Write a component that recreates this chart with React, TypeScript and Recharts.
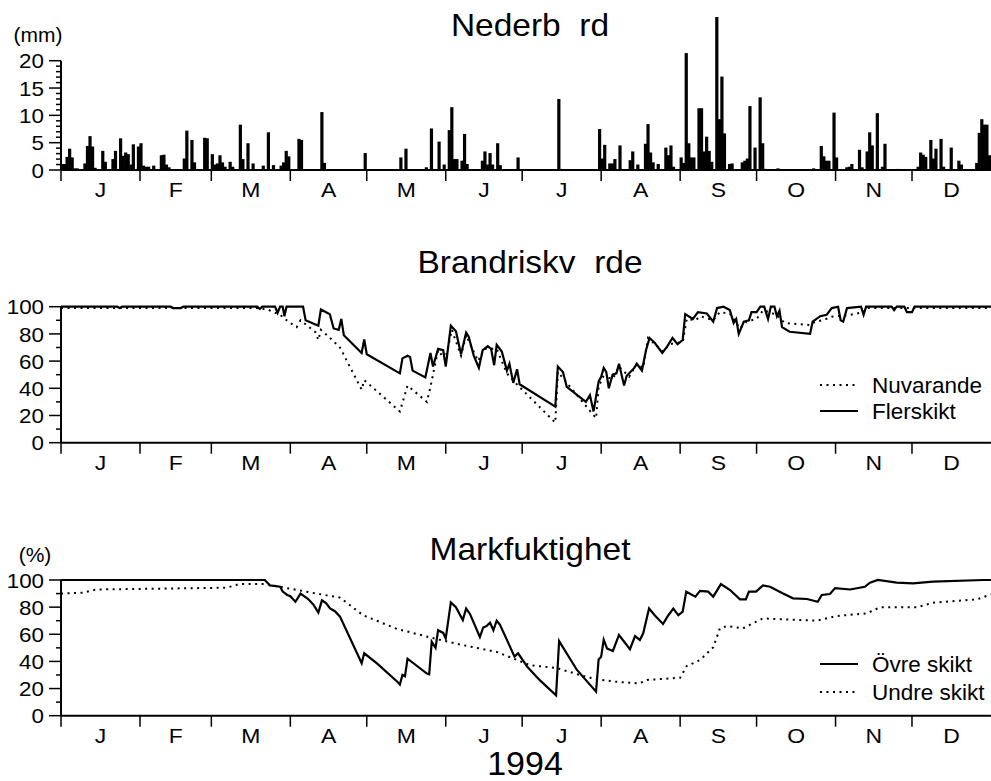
import { ComposedChart, Bar, Line, XAxis, YAxis, ReferenceLine } from "recharts";

const FONT = '"Liberation Sans", Arial, Helvetica, sans-serif';

// calendar 1994
const months = ["J", "F", "M", "A", "M", "J", "J", "A", "S", "O", "N", "D"];
const monthDays = [31, 28, 31, 30, 31, 30, 31, 31, 30, 31, 30, 31];
const monthStarts = monthDays.map((_, i) =>
  monthDays.slice(0, i).reduce((a, b) => a + b, 0)
);

// daily precipitation (mm), [day of year (0-based), mm]; days not listed are dry
const rainfall: [number, number][] = [
  [0, 1.1], [1, 1.1], [2, 2.4], [3, 3.9], [4, 2.3], [5, 0.3], [6, 0.3],
  [9, 1.2], [10, 4.4], [11, 6.2], [12, 4.3], [13, 0.4], [16, 3.5], [17, 1.5],
  [20, 2.0], [21, 3.5], [23, 5.8], [24, 2.6], [25, 3.2], [26, 2.9], [27, 1.0],
  [28, 4.7], [30, 4.3], [31, 4.9], [32, 0.8], [33, 0.6], [34, 0.6], [36, 0.8],
  [39, 2.7], [40, 2.8], [41, 1.0], [42, 0.5], [48, 2.1], [49, 7.2], [51, 5.5],
  [52, 1.4], [56, 5.9], [57, 5.8], [59, 2.9], [60, 1.0], [61, 1.2], [62, 2.7],
  [63, 1.4], [64, 0.6], [66, 1.5], [67, 0.6], [70, 8.3], [71, 2.0], [73, 4.9],
  [75, 1.2], [79, 0.8], [81, 6.9], [83, 0.9], [86, 0.8], [87, 1.4], [88, 3.5],
  [89, 2.5], [93, 5.7], [94, 5.5], [102, 10.6], [103, 1.3], [119, 3.1],
  [133, 2.3], [135, 3.9], [143, 0.5], [145, 7.6], [148, 5.2], [150, 1.0],
  [152, 7.3], [153, 11.5], [154, 2.0], [155, 2.0], [157, 1.7], [158, 6.6],
  [159, 1.1], [165, 1.7], [166, 3.4], [167, 1.0], [168, 3.1], [169, 1.0],
  [171, 4.9], [172, 0.9], [179, 2.3], [195, 13.0], [196, 0.2], [211, 7.5],
  [212, 2.1], [213, 4.6], [215, 1.2], [216, 1.2], [217, 2.0], [219, 4.5],
  [223, 1.8], [224, 3.4], [226, 1.0], [229, 4.8], [230, 8.4], [231, 3.2],
  [232, 1.4], [234, 1.1], [237, 4.1], [238, 2.7], [239, 4.5], [240, 0.6],
  [243, 2.3], [244, 1.3], [245, 21.4], [246, 4.9], [247, 2.3], [248, 2.3],
  [250, 11.3], [251, 11.3], [252, 3.4], [253, 6.1], [254, 3.5], [255, 1.5],
  [257, 28.0], [258, 9.3], [259, 17.1], [260, 6.7], [262, 1.1], [263, 1.2],
  [267, 1.4], [268, 1.7], [269, 2.1], [270, 11.7], [272, 4.1], [274, 13.3],
  [275, 4.9], [276, 0.2], [281, 0.3], [295, 0.3], [298, 4.4], [299, 2.5],
  [300, 1.7], [301, 1.7], [303, 10.5], [304, 2.3], [308, 0.5], [309, 0.6],
  [310, 1.1], [313, 3.7], [314, 0.5], [316, 3.4], [317, 6.9], [318, 4.5],
  [320, 10.4], [322, 0.6], [323, 4.8], [328, 0.2], [336, 0.6], [337, 3.2],
  [338, 2.8], [339, 2.4], [341, 5.5], [342, 2.1], [343, 3.9], [345, 5.7],
  [346, 0.6], [349, 4.1], [352, 1.7], [353, 1.0], [359, 1.3], [360, 6.8],
  [361, 9.3], [362, 8.3], [363, 8.3], [364, 2.7],
];

// fire risk index, [day, value]
const flerskikt: [number, number][] = [
  [0, 100], [22, 100], [23, 99], [24, 100], [43, 100], [44, 99], [47, 99], [48, 100],
  [77, 100], [78, 98.5], [79, 100], [84, 100], [85, 95.5], [86, 100], [87, 100],
  [87.7, 93], [88.5, 100], [95, 100], [96, 90], [101, 86], [102, 98], [105.5, 94.5],
  [107, 84], [109, 83], [110, 91], [111, 79], [118, 66], [119, 76], [120, 65],
  [133, 51], [134, 62], [136, 64], [137, 63], [138, 53], [143, 48], [145, 66],
  [146, 56], [148, 69], [150, 68], [151, 56], [153, 86], [155, 82], [157, 65],
  [159, 81], [160, 78], [162, 64], [164, 55], [165.5, 68], [167.5, 71], [168.8, 69],
  [170, 57], [171, 72], [173, 67], [175, 53], [176, 58], [177.5, 44], [179, 54],
  [180, 43], [194, 26.5], [195, 56], [197, 52], [198.5, 41], [206, 30], [207.6, 35],
  [209, 23], [211, 45], [212, 48.5], [213, 55], [214, 52], [215, 40], [216.5, 50],
  [218, 51], [219, 58], [221, 42], [222, 49], [225, 55], [226, 58], [228, 53],
  [229.6, 68], [231, 77], [233, 73.5], [236, 66], [238, 71], [240, 77], [242, 72.5],
  [244, 75.5], [245, 94.6], [248, 91], [250, 96], [253.5, 95], [256, 89], [257.5, 99],
  [260, 100], [262.5, 97.5], [264, 88], [265, 91], [266, 80], [268, 89], [270, 90],
  [271, 96], [273, 96], [274.5, 100], [276, 100], [277.5, 91], [278.6, 100], [280, 100],
  [281, 93], [282, 97], [283, 85], [286, 81.6], [294, 80], [295, 89], [298, 93],
  [300.5, 94], [302.5, 99], [305, 100], [306, 90], [307, 89], [308.5, 99], [314, 100],
  [315, 94], [316, 100], [326, 100], [327, 97.5], [328, 100], [331, 100], [332, 96],
  [334, 96], [335, 100], [365, 100],
];

const nuvarande: [number, number][] = [
  [0, 99], [77, 99], [81, 98], [86, 94], [88.6, 90], [90, 88], [92.5, 85], [94, 90],
  [100, 81], [101, 75.5], [102, 83], [105.6, 77], [109.5, 70], [118, 39], [119, 46],
  [133, 23], [136, 42], [143.6, 30], [145, 41], [148, 68], [150.8, 61], [153.4, 83],
  [157, 64], [159, 79], [163.7, 60], [166, 69], [171, 69], [175, 51], [179.4, 42],
  [194, 14.7], [195, 52], [198.5, 44], [210, 18], [211, 41], [212.7, 48.5],
  [216.6, 47], [219, 56], [223, 48.5], [226, 58], [228.5, 55], [230.4, 77],
  [233, 72.5], [236.3, 67], [239, 72.5], [244, 74], [245.6, 91], [249, 90], [251, 93],
  [256, 90], [258.6, 96], [262.5, 95], [266.5, 84], [269, 89], [273, 91], [275.6, 97.5],
  [281, 94], [284, 88], [294, 86.5], [296, 89], [299, 90], [302.5, 92.6], [309.7, 94],
  [315, 96], [316, 99], [365, 99],
];

// soil moisture (%), [day, value]
const ovreSkikt: [number, number][] = [
  [0, 100], [80, 100], [82, 96], [86, 95], [87, 91.5], [88.8, 89], [90, 88], [92, 84],
  [94, 90], [97, 86], [99, 82], [101, 76], [102.4, 85], [104, 83], [105.6, 79],
  [107.5, 77], [109.5, 73], [118, 38.6], [119, 46], [124, 38.6], [132, 25], [133, 23],
  [134, 30], [135, 29], [136, 42], [143.6, 31], [144.5, 30.5], [145.5, 54.5], [147, 50],
  [148, 63], [150, 61], [151, 57], [153, 83.5], [155, 80], [157.7, 70.5], [159, 79],
  [160.5, 75], [164.4, 58], [165.7, 65], [167, 66], [168.4, 68.5], [169.7, 63],
  [171, 70], [172.3, 67], [178, 43.5], [179.4, 46], [183, 36], [188, 26], [194.3, 15],
  [195.5, 55], [202.5, 33.7], [210, 17.7], [211, 41.5], [212, 43.5], [213, 56],
  [214.3, 49.6], [216.6, 47.7], [219, 59.5], [223.3, 49], [225.3, 58.7], [227.2, 55.8],
  [228.5, 60.7], [230.8, 79], [233, 74], [236.3, 67.6], [238, 73], [240.3, 79],
  [242.3, 74], [244, 76.7], [245.4, 91.4], [249, 87.7], [250.8, 92], [254, 91.4],
  [256, 87.7], [259, 97], [262.6, 92.6], [266.5, 85.7], [268.8, 85.7], [270, 91.4],
  [272.8, 91.4], [275.5, 96], [278.3, 95], [283.4, 90], [287.3, 86.5], [292.8, 86],
  [297, 84], [298.6, 89], [301.8, 89.7], [303.8, 94], [309.7, 93], [315.5, 95],
  [317.5, 98], [320.6, 100], [328, 98], [334.4, 97.5], [342.2, 98.8], [362, 100],
  [365, 100],
];

const undreSkikt: [number, number][] = [
  [0, 90], [8.7, 90.7], [14, 93], [65, 94.3], [70, 97], [80.7, 97], [87, 94.6],
  [100.3, 90], [109.5, 87], [118.6, 74], [131.8, 64], [144.8, 57.7], [150, 55.3],
  [157.8, 52], [171, 47], [179, 41], [184, 37.3], [194.7, 35], [203.7, 30], [210, 26.8],
  [218, 25], [227, 23.8], [230, 26.3], [243, 28], [245.6, 36.6], [250.8, 41],
  [256, 50.4], [258.6, 64.4], [261.4, 66], [267.7, 64.4], [275.5, 71.7], [283.4, 71],
  [296.7, 70], [304.5, 73.5], [316.3, 75.4], [321.4, 79.9], [336, 79.9], [342.2, 83.3],
  [359.5, 85.7], [365, 89.4],
];

const rainTicks = Array.from({ length: 21 }, (_, i) => i);
const pctTicks = [0, 10, 20, 30, 40, 50, 60, 70, 80, 90, 100];

const W = 991;
const PLOT_W = 930;
const PX_PER_DAY = PLOT_W / 365;
const DOTTED = "2 4.5";
const BAR_W = 3.2;

const toPoints = (rows: [number, number][]) => rows.map(([day, v]) => ({ day, v }));
const rainData = rainfall.map(([d, mm]) => ({ day: d + 0.5, mm }));

const Label = ({ x, y, size, children, anchor = "middle", sx = 1, dy }: any) => (
  <text
    transform={`translate(${x} ${y}) scale(${sx} 1)`}
    dy={dy}
    textAnchor={anchor}
    fontSize={size}
    fontFamily={FONT}
    fill="#000"
    style={{ whiteSpace: "pre" }}
  >
    {children}
  </text>
);

// month boundary tick with the month letter centred on the month
const MonthTick = ({ x, y, payload }: any) => {
  const i = monthStarts.indexOf(payload.value);
  const mid = (monthDays[i] / 2) * PX_PER_DAY;
  return (
    <g>
      <line x1={x} y1={y} x2={x} y2={y + 11} stroke="#000" strokeWidth={1.5} />
      <Label x={x + mid} y={y + 27} size={20.5} sx={1.12}>
        {months[i]}
      </Label>
    </g>
  );
};

const makeYTick = (labelEvery: number) => ({ x, y, payload }: any) => {
  const major = payload.value % labelEvery === 0;
  return (
    <g>
      <line x1={x - (major ? 12 : 5)} y1={y} x2={x} y2={y} stroke="#000" strokeWidth={1.5} />
      {major && (
        <Label x={x - 17} y={y} dy="0.38em" size={20} sx={1.12} anchor="end">
          {payload.value}
        </Label>
      )}
    </g>
  );
};

// a solid daily bar, centred on the slot the library gives it
const RainBar = (p: any) =>
  p.height > 0 ? (
    <rect
      x={p.x + p.width / 2 - BAR_W / 2}
      y={p.y}
      width={BAR_W}
      height={p.height}
      fill="#000"
    />
  ) : null;

const axisStroke = { stroke: "#000", strokeWidth: 2 };

const monthAxis = (
  <XAxis
    dataKey="day"
    type="number"
    domain={[0, 365]}
    ticks={monthStarts}
    interval={0}
    tickSize={0}
    tickMargin={0}
    tick={<MonthTick />}
    axisLine={axisStroke}
    height={30}
  />
);

const LegendRow = ({ y, dashed, text }: any) => (
  <g>
    <line
      x1={820}
      x2={858}
      y1={y}
      y2={y}
      stroke="#000"
      strokeWidth={2}
      strokeDasharray={dashed ? DOTTED : undefined}
    />
    <Label x={872} y={y + 7.5} size={22.5} anchor="start">
      {text}
    </Label>
  </g>
);

export default function App() {
  return (
    <div
      style={{
        position: "absolute",
        left: 0,
        top: 0,
        width: W,
        height: 781,
        background: "#fff",
        fontFamily: FONT,
      }}
    >
      <div style={{ position: "absolute", left: 0, top: 0 }}>
        <ComposedChart
          width={W}
          height={212}
          data={rainData}
          margin={{ top: 17, right: 0, bottom: 12, left: 0 }}
        >
          {monthAxis}
          <YAxis
            type="number"
            domain={[0, 28]}
            ticks={rainTicks}
            interval={0}
            width={61}
            tickSize={0}
            tickMargin={0}
            tick={makeYTick(5)}
            axisLine={false}
          />
          <ReferenceLine
            segment={[
              { x: 0, y: 0 },
              { x: 0, y: 20 },
            ]}
            stroke="#000"
            strokeWidth={2}
          />
          <Bar
            dataKey="mm"
            fill="#000"
            barSize={2}
            shape={<RainBar />}
            isAnimationActive={false}
          />
        </ComposedChart>
      </div>

      <div style={{ position: "absolute", left: 0, top: 290 }}>
        <ComposedChart
          width={W}
          height={194.7}
          margin={{ top: 16.7, right: 0, bottom: 12, left: 0 }}
        >
          {monthAxis}
          <YAxis
            type="number"
            domain={[0, 100]}
            ticks={pctTicks}
            interval={0}
            width={61}
            tickSize={0}
            tickMargin={0}
            tick={makeYTick(20)}
            axisLine={axisStroke}
          />
          <Line
            data={toPoints(nuvarande)}
            dataKey="v"
            type="linear"
            stroke="#000"
            strokeWidth={2}
            strokeDasharray={DOTTED}
            dot={false}
            isAnimationActive={false}
          />
          <Line
            data={toPoints(flerskikt)}
            dataKey="v"
            type="linear"
            stroke="#000"
            strokeWidth={2.2}
            dot={false}
            isAnimationActive={false}
          />
        </ComposedChart>
      </div>

      <div style={{ position: "absolute", left: 0, top: 570 }}>
        <ComposedChart
          width={W}
          height={187.7}
          margin={{ top: 10, right: 0, bottom: 12, left: 0 }}
        >
          {monthAxis}
          <YAxis
            type="number"
            domain={[0, 100]}
            ticks={pctTicks}
            interval={0}
            width={61}
            tickSize={0}
            tickMargin={0}
            tick={makeYTick(20)}
            axisLine={axisStroke}
          />
          <Line
            data={toPoints(undreSkikt)}
            dataKey="v"
            type="linear"
            stroke="#000"
            strokeWidth={2}
            strokeDasharray={DOTTED}
            dot={false}
            isAnimationActive={false}
          />
          <Line
            data={toPoints(ovreSkikt)}
            dataKey="v"
            type="linear"
            stroke="#000"
            strokeWidth={2.2}
            dot={false}
            isAnimationActive={false}
          />
        </ComposedChart>
      </div>

      <svg
        width={W}
        height={781}
        style={{ position: "absolute", left: 0, top: 0, pointerEvents: "none" }}
      >
        <Label x={530} y={36} size={31} sx={1.08}>
          {"Nederb  rd"}
        </Label>
        <Label x={530} y={273} size={31} sx={1.08}>
          {"Brandriskv  rde"}
        </Label>
        <Label x={530} y={560} size={31} sx={1.08}>
          Markfuktighet
        </Label>
        <Label x={525} y={775} size={34}>
          1994
        </Label>
        <Label x={38} y={42} size={21}>
          (mm)
        </Label>
        <Label x={35} y={562} size={21}>
          (%)
        </Label>

        <LegendRow y={385} dashed text="Nuvarande" />
        <LegendRow y={411} text="Flerskikt" />
        <LegendRow y={664} text="Övre skikt" />
        <LegendRow y={692} dashed text="Undre skikt" />
      </svg>
    </div>
  );
}
